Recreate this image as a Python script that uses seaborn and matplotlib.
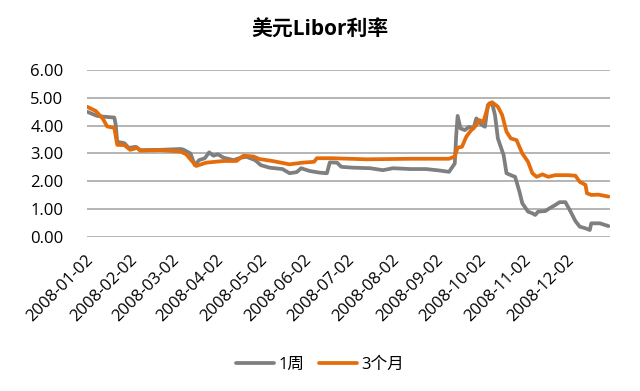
import matplotlib
matplotlib.use("Agg")
import matplotlib.pyplot as plt
import matplotlib.dates as mdates
import matplotlib.transforms as mtransforms
import pandas as pd
import seaborn as sns

# 1周 Libor
week_dates = ["2008-01-02", "2008-01-09", "2008-01-14", "2008-01-21", "2008-01-22", "2008-01-23",
              "2008-01-28", "2008-01-31", "2008-02-05", "2008-02-08", "2008-02-22", "2008-03-07",
              "2008-03-09", "2008-03-14", "2008-03-17", "2008-03-20", "2008-03-24", "2008-03-27",
              "2008-03-30", "2008-04-02", "2008-04-06", "2008-04-13", "2008-04-18", "2008-04-22",
              "2008-04-28", "2008-05-02", "2008-05-08", "2008-05-17", "2008-05-22", "2008-05-27",
              "2008-05-30", "2008-06-05", "2008-06-12", "2008-06-17", "2008-06-19", "2008-06-24",
              "2008-06-27", "2008-07-05", "2008-07-17", "2008-07-26", "2008-08-02", "2008-08-14",
              "2008-08-25", "2008-09-03", "2008-09-10", "2008-09-14", "2008-09-15", "2008-09-16",
              "2008-09-18", "2008-09-21", "2008-09-24", "2008-09-27", "2008-09-29", "2008-10-03",
              "2008-10-05", "2008-10-07", "2008-10-10", "2008-10-12", "2008-10-14", "2008-10-18",
              "2008-10-20", "2008-10-23", "2008-10-26", "2008-10-29", "2008-10-31", "2008-11-04",
              "2008-11-07", "2008-11-09", "2008-11-11", "2008-11-16", "2008-11-19", "2008-11-23",
              "2008-11-26", "2008-11-30", "2008-12-03", "2008-12-07", "2008-12-10", "2008-12-14",
              "2008-12-17", "2008-12-18", "2008-12-24", "2008-12-30"]
week_rates = [4.50, 4.35, 4.32, 4.29, 4.02, 3.42, 3.37, 3.20, 3.24, 3.12, 3.13, 3.16,
              3.14, 3.00, 2.58, 2.76, 2.83, 3.04, 2.92, 2.97, 2.85, 2.76, 2.85, 2.88,
              2.76, 2.58, 2.49, 2.44, 2.29, 2.33, 2.47, 2.37, 2.31, 2.29, 2.68, 2.67,
              2.52, 2.49, 2.47, 2.40, 2.47, 2.44, 2.44, 2.39, 2.34, 2.64, 3.66, 4.35,
              3.90, 3.84, 3.96, 3.90, 4.26, 4.02, 3.96, 4.74, 4.80, 4.38, 3.54, 2.94,
              2.29, 2.22, 2.16, 1.63, 1.21, 0.91, 0.85, 0.79, 0.91, 0.93, 1.03, 1.15,
              1.25, 1.25, 0.97, 0.57, 0.37, 0.31, 0.25, 0.49, 0.49, 0.39]

# 3个月 Libor
m3_dates = ["2008-01-02", "2008-01-08", "2008-01-13", "2008-01-16", "2008-01-21", "2008-01-23",
            "2008-01-28", "2008-02-01", "2008-02-06", "2008-02-08", "2008-02-22", "2008-03-07",
            "2008-03-11", "2008-03-18", "2008-03-25", "2008-04-06", "2008-04-15", "2008-04-20",
            "2008-04-27", "2008-05-01", "2008-05-10", "2008-05-22", "2008-05-31", "2008-06-08",
            "2008-06-10", "2008-06-20", "2008-07-15", "2008-08-15", "2008-09-10", "2008-09-14",
            "2008-09-16", "2008-09-19", "2008-09-22", "2008-09-25", "2008-09-29", "2008-10-01",
            "2008-10-04", "2008-10-06", "2008-10-08", "2008-10-10", "2008-10-14", "2008-10-17",
            "2008-10-20", "2008-10-23", "2008-10-27", "2008-10-31", "2008-11-04", "2008-11-07",
            "2008-11-10", "2008-11-14", "2008-11-18", "2008-11-23", "2008-12-02", "2008-12-07",
            "2008-12-10", "2008-12-14", "2008-12-15", "2008-12-18", "2008-12-23", "2008-12-30"]
m3_rates = [4.68, 4.53, 4.25, 3.97, 3.92, 3.31, 3.30, 3.13, 3.20, 3.10, 3.12, 3.07,
            2.97, 2.55, 2.67, 2.73, 2.73, 2.92, 2.89, 2.80, 2.73, 2.61, 2.67, 2.70,
            2.83, 2.83, 2.79, 2.81, 2.81, 2.89, 3.21, 3.24, 3.60, 3.81, 4.02, 4.20,
            4.14, 4.50, 4.80, 4.84, 4.68, 4.38, 3.78, 3.54, 3.48, 3.00, 2.70, 2.29,
            2.16, 2.25, 2.16, 2.22, 2.22, 2.20, 1.98, 1.87, 1.57, 1.51, 1.52, 1.45]

series_names = ["1周", "3个月"]
tick_dates = ["2008-01-02", "2008-02-02", "2008-03-02", "2008-04-02", "2008-05-02", "2008-06-02",
              "2008-07-02", "2008-08-02", "2008-09-02", "2008-10-02", "2008-11-02", "2008-12-02"]

df = pd.concat([
    pd.DataFrame({"date": pd.to_datetime(week_dates), "rate": week_rates, "series": series_names[0]}),
    pd.DataFrame({"date": pd.to_datetime(m3_dates), "rate": m3_rates, "series": series_names[1]}),
])

sns.set_style("white")
plt.rcParams["font.family"] = ["Open Sans", "Noto Sans CJK SC", "DejaVu Sans"]
plt.rcParams["text.color"] = "black"

fig, ax = plt.subplots(figsize=(6.4, 3.91), dpi=100)
fig.subplots_adjust(left=0.136, right=0.953, top=0.821, bottom=0.394)

sns.lineplot(data=df, x="date", y="rate", hue="series", hue_order=series_names,
             palette=["#7F7F7F", "#E46C0A"], linewidth=2.7, estimator=None, ax=ax)

ax.set_ylim(0, 6)
ax.set_yticks([0, 1, 2, 3, 4, 5, 6])
ax.set_yticklabels([f"{v:.2f}" for v in range(7)], fontsize=12, color="black")
ax.set_xlim(pd.Timestamp("2008-01-02"), pd.Timestamp("2008-12-31"))
ax.set_xticks(pd.to_datetime(tick_dates))
ax.xaxis.set_major_formatter(mdates.DateFormatter("%Y-%m-%d"))
ax.tick_params(axis="y", length=0, pad=17)
ax.tick_params(axis="x", length=0, pad=11)
shift = mtransforms.ScaledTranslation(-2 / 100, 0, fig.dpi_scale_trans)
for lbl in ax.get_xticklabels():
    lbl.set_rotation(45)
    lbl.set_ha("right")
    lbl.set_rotation_mode("anchor")
    lbl.set_fontsize(12)
    lbl.set_color("black")
    lbl.set_transform(lbl.get_transform() + shift)
ax.grid(axis="y", color="#A0A0A0", linewidth=1.1)
ax.set_axisbelow(True)
for s in ax.spines.values():
    s.set_visible(False)
ax.set_xlabel("")
ax.set_ylabel("")

fig.suptitle("美元Libor利率", fontsize=15, fontweight="bold", y=0.923, va="center")

handles, labels = ax.get_legend_handles_labels()
ax.legend_.remove()
fig.legend(handles, labels, loc="center", bbox_to_anchor=(0.5, 0.066), ncol=2, frameon=False,
           fontsize=12, handlelength=2.3, columnspacing=0.9, handletextpad=0.25)

fig.savefig("out.png", dpi=100)
